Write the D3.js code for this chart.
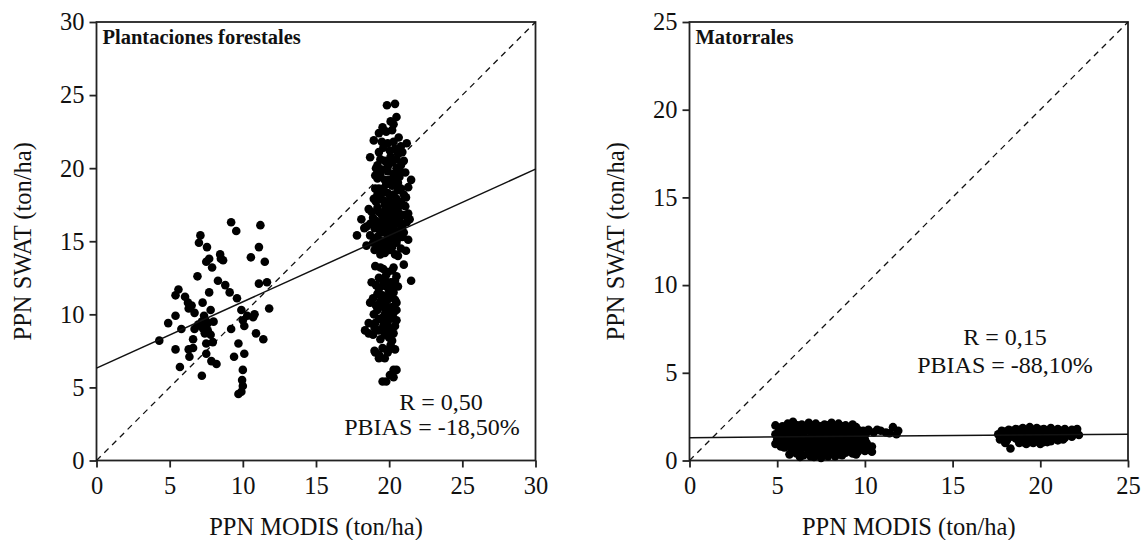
<!DOCTYPE html>
<html><head><meta charset="utf-8">
<script src="https://cdn.jsdelivr.net/npm/d3@7"></script>
<style>body{margin:0;background:#fff}svg{display:block}</style>
</head><body>
<svg id="c" width="1141" height="540"></svg>
<script>
// ---- Data ----
const forestTicks = [0,5,10,15,20,25,30];
const shrubTicks = [0,5,10,15,20,25];
const forestTitle = "Plantaciones forestales";
const shrubTitle = "Matorrales";
const xTitle = "PPN MODIS (ton/ha)";
const yTitle = "PPN SWAT (ton/ha)";
const forestStats = ["R = 0,50","PBIAS = -18,50%"];
const shrubStats = ["R = 0,15","PBIAS = -88,10%"];
const forestFit = [[0,6.32],[30,19.93]];
const shrubFit = [[0,1.3],[25,1.5]];

const forestLow = [[4.29,8.2],[4.9,9.4],[5.4,9.9],[5.4,11.3],[5.6,11.7],[5.4,7.6],[5.7,6.4],[5.8,9.0],[6.05,11.2],[6.25,10.8],[6.3,10.4],[6.3,7.6],[6.35,7.1],[6.6,8.3],[6.6,7.7],[6.7,10.1],[6.7,9.0],[6.9,12.6],[7.0,14.9],[7.1,15.4],[7.2,5.8],[7.25,10.8],[7.35,9.9],[7.3,9.4],[7.3,9.0],[7.4,8.7],[7.5,8.0],[7.5,7.3],[7.5,13.6],[7.55,14.6],[7.6,9.4],[7.7,11.5],[7.7,13.8],[7.8,10.3],[7.8,8.6],[7.85,6.8],[7.9,13.2],[7.95,8.1],[8.0,9.5],[8.2,6.6],[8.3,12.3],[8.45,14.1],[8.65,13.7],[8.8,12.0],[9.1,11.5],[9.2,9.0],[9.2,16.3],[9.4,7.1],[9.55,15.7],[9.6,11.1],[9.7,8.0],[9.7,4.55],[9.9,4.7],[9.9,10.3],[9.95,5.5],[10.0,5.1],[10.0,6.2],[10.0,9.6],[10.1,7.3],[10.1,9.2],[10.55,13.9],[10.7,9.8],[10.8,10.0],[10.9,8.7],[11.1,14.6],[11.1,12.1],[11.2,16.1],[11.4,8.3],[11.5,13.6],[11.65,12.2],[11.8,10.4],[7.1,9.2],[7.45,9.6],[7.2,9.5],[6.95,9.3],[7.6,8.9],[8.5,13.8],[10.3,9.9],[6.5,10.6]];

const forestHigh = [[19.85,24.3],[20.4,24.4],[20.5,23.5],[20.1,23.2],[20.3,23.0],[19.55,22.8],[19.3,22.4],[19.8,22.5],[20.2,22.6],[18.95,21.9],[20.65,22.1],[21.2,21.7],[20.3,21.8],[19.6,21.4],[20.05,21.2],[19.3,21.1],[20.9,21.1],[20.6,21.0],[18.7,20.75],[21.0,20.5],[19.4,20.6],[20.2,20.4],[20.8,20.2],[19.9,20.1],[19.05,19.5],[19.9,19.8],[20.5,20.0],[21.1,19.7],[19.5,19.9],[20.3,19.6],[21.5,19.2],[19.2,19.3],[20.0,19.2],[20.7,19.4],[21.3,18.7],[19.05,18.6],[19.55,18.35],[20.2,18.8],[20.6,18.5],[19.8,18.9],[21.0,18.2],[18.95,17.9],[21.15,18.0],[19.4,18.0],[20.0,17.8],[20.4,17.6],[19.7,17.5],[20.8,17.7],[18.6,17.2],[19.2,17.3],[19.9,17.2],[20.3,17.0],[21.3,16.9],[20.7,16.9],[19.5,16.8],[18.9,16.6],[18.1,16.5],[21.4,16.5],[19.3,16.3],[20.1,16.4],[20.5,16.2],[19.7,16.1],[20.9,16.0],[18.45,16.0],[19.0,15.9],[20.3,15.8],[19.6,15.6],[21.0,15.6],[17.8,15.4],[18.7,15.4],[19.2,15.3],[20.0,15.3],[20.6,15.2],[21.3,15.1],[19.8,14.9],[18.45,14.7],[19.4,14.8],[20.2,14.6],[20.8,14.5],[19.0,14.4],[21.15,14.35],[19.7,14.2],[20.4,14.1],[19.6,17.0],[20.0,16.6],[19.3,16.0],[20.4,15.5],[19.9,15.9],[20.2,17.4],[19.5,15.0],[20.6,17.3],[19.8,16.4],[20.1,19.0],[19.6,18.6],[20.7,19.8],[19.4,19.6],[20.4,21.3],[19.9,21.7],
[19.2,20.2],[19.7,20.5],[20.1,20.8],[20.5,20.6],[19.5,21.8],[20.8,21.5],[19.1,20.0],[20.6,19.0],[19.3,18.6],[19.9,18.3],[20.3,18.2],[20.8,18.6],[19.1,17.7],[19.6,17.8],[20.5,17.9],[21.1,17.4],[18.8,17.0],[19.8,16.9],[20.4,16.6],[21.0,16.8],[19.1,16.4],[19.6,16.3],[20.7,16.4],[18.7,16.2],[20.2,16.0],[21.2,16.3],[19.4,15.6],[19.9,15.6],[20.8,15.8],[18.3,15.9],[19.0,15.1],[20.3,15.2],[20.9,15.3],[18.9,14.9],[20.0,14.8],[20.5,14.9],[19.2,14.5],[20.0,14.4],[20.6,14.0],[19.4,14.1],
[21.0,13.4],[19.05,13.3],[20.3,13.2],[19.6,13.1],[19.9,12.9],[19.8,12.7],[20.5,12.6],[19.3,12.5],[21.5,12.3],[18.8,12.2],[20.1,12.2],[19.6,12.0],[20.6,11.9],[19.3,11.75],[20.0,11.6],[19.55,11.3],[20.05,11.3],[18.9,11.1],[20.4,11.0],[18.7,10.8],[19.4,10.9],[20.5,10.8],[19.8,10.6],[20.2,10.5],[19.2,10.3],[19.8,10.3],[20.5,10.3],[18.95,10.0],[20.0,10.0],[19.6,9.8],[20.3,9.7],[19.55,9.6],[18.6,9.4],[19.05,9.4],[20.4,9.2],[19.9,9.2],[18.35,8.9],[19.3,8.9],[20.05,8.9],[18.6,8.7],[20.3,8.7],[19.7,8.6],[20.0,8.4],[19.55,7.7],[20.05,7.7],[19.05,7.4],[19.3,7.25],[19.7,7.0],[19.0,7.5],[20.1,7.9],[20.3,6.2],[20.5,6.2],[20.05,5.85],[20.3,5.7],[19.55,5.4],[19.8,5.4],[19.5,12.4],[20.3,11.5],[19.7,10.0],[20.2,9.9],
[19.4,13.2],[20.2,13.0],[19.7,12.4],[20.4,12.3],[19.1,12.0],[20.3,12.0],[19.8,11.9],[19.2,11.4],[19.9,11.0],[20.2,11.2],[19.1,10.6],[19.6,10.5],[20.3,10.1],[19.3,9.7],[19.9,9.5],[20.5,9.6],[19.0,9.1],[19.6,9.2],[19.8,8.9],[19.4,8.3],[20.2,8.2],[18.9,8.6],[19.9,7.4],[20.4,7.6],[19.3,7.0],
[19.7,19.2],[20.4,19.3],[19.3,17.0],[20.1,17.6],[19.9,15.2],[19.6,14.6],[20.3,16.2],[20.7,15.6],[19.2,18.2],[20.0,20.3]];

const shrubLow = [[5.6,2.1],[5.9,2.2],[6.4,2.05],[6.8,2.15],[7.2,2.1],[7.7,2.05],[8.1,2.15],[8.5,2.1],[8.9,2.0],[9.3,2.05],[4.9,2.0],
[5.1,1.7],[5.5,1.8],[5.9,1.75],[6.3,1.85],[6.7,1.7],[7.1,1.8],[7.5,1.75],[7.9,1.85],[8.3,1.7],[8.7,1.8],[9.1,1.75],[9.5,1.9],[9.9,1.7],[10.2,1.75],
[4.9,1.5],[5.3,1.4],[5.7,1.35],[6.1,1.45],[6.5,1.4],[6.9,1.3],[7.3,1.45],[7.7,1.4],[8.1,1.35],[8.5,1.45],[8.9,1.4],[9.3,1.5],[9.7,1.35],[10.0,1.45],
[4.9,0.95],[5.3,1.0],[5.7,1.1],[6.1,1.0],[6.5,1.05],[6.9,0.95],[7.3,1.1],[7.7,1.0],[8.1,1.05],[8.5,0.95],[8.9,1.1],[9.3,1.0],[9.7,0.95],[10.1,1.0],
[5.4,0.75],[5.8,0.65],[6.2,0.7],[6.6,0.75],[7.0,0.65],[7.4,0.7],[7.8,0.75],[8.2,0.65],[8.6,0.7],[9.0,0.75],[9.4,0.65],[9.8,0.7],[10.3,0.6],
[5.7,0.35],[6.1,0.4],[6.5,0.3],[6.9,0.25],[7.3,0.35],[7.7,0.3],[8.1,0.4],[8.5,0.35],[8.9,0.45],[9.3,0.4],
[10.4,0.5],[5.0,1.2],[5.2,0.8],[9.6,1.2],[9.8,1.6],[6.0,1.55],[7.0,1.55],[8.0,1.55],[9.0,1.6],[6.4,0.9],[7.5,0.9],[8.7,0.9],[6.8,0.5],[7.9,0.5],[9.1,0.55],[5.5,1.6],[10.0,1.2],
[5.3,1.95],[5.75,1.95],[6.15,2.0],[6.6,1.95],[7.0,2.0],[7.45,1.95],[7.9,2.0],[8.3,1.95],[8.7,1.95],[9.1,1.9],[9.6,1.75],
[5.2,1.6],[5.8,1.6],[6.3,1.6],[6.5,1.65],[7.3,1.65],[7.7,1.6],[8.5,1.6],[8.8,1.55],[9.4,1.65],[10.1,1.6],
[5.5,1.25],[5.9,1.2],[6.3,1.25],[6.7,1.2],[7.1,1.25],[7.5,1.2],[7.9,1.25],[8.3,1.2],[8.7,1.25],[9.1,1.2],[9.5,1.3],[9.9,1.25],
[5.5,0.9],[6.0,0.85],[6.8,0.85],[7.2,0.85],[7.9,0.85],[8.3,0.85],[9.2,0.85],[9.6,0.8],[10.0,0.85],[10.4,0.8],
[5.9,0.5],[6.3,0.55],[7.2,0.5],[7.6,0.55],[8.4,0.5],[8.8,0.55],[9.6,0.5],[10.0,0.55],
[6.3,0.2],[7.1,0.2],[7.5,0.15],[7.9,0.25],[8.3,0.25],[8.7,0.3],[9.5,0.35],
[10.5,1.6],[10.9,1.7],[11.2,1.6],[11.6,1.9],[11.9,1.7],[11.8,1.5],[11.4,1.55],[10.7,1.75]];

const shrubHigh = [[17.8,1.7],[18.2,1.75],[18.6,1.8],[19.0,1.85],[19.4,1.9],[19.8,1.85],[20.2,1.8],[20.6,1.85],[21.0,1.8],[21.4,1.8],[21.8,1.75],[22.1,1.8],
[17.6,1.5],[18.0,1.45],[18.4,1.55],[18.8,1.5],[19.2,1.45],[19.6,1.55],[20.0,1.5],[20.4,1.55],[20.8,1.5],[21.2,1.55],[21.6,1.5],[22.0,1.55],[22.2,1.45],
[17.7,1.2],[18.1,1.15],[18.6,1.25],[19.0,1.2],[19.4,1.15],[19.8,1.25],[20.2,1.2],[20.6,1.3],[21.0,1.25],[21.4,1.3],[21.8,1.35],
[18.8,1.0],[19.2,0.95],[19.6,1.0],[20.0,0.95],[20.4,1.05],[18.0,1.0],[18.3,0.68],
[18.0,1.65],[18.4,1.7],[18.8,1.75],[19.2,1.7],[19.6,1.75],[20.0,1.75],[20.4,1.7],[20.8,1.7],[21.2,1.7],[21.6,1.65],[22.0,1.7],
[17.9,1.35],[18.3,1.35],[18.7,1.35],[19.1,1.35],[19.5,1.35],[19.9,1.4],[20.3,1.35],[20.7,1.4],[21.1,1.4],[21.5,1.45],
[19.0,1.05],[19.4,1.05],[19.8,1.1],[20.2,1.05],[20.6,1.1],[21.0,1.15],[21.3,1.2]];

// ---- Drawing ----
const FONT = "'Liberation Serif','Times New Roman','DejaVu Serif',serif";
const svg = d3.select("#c");
const fmt = d => String(d);

function panel(o){
  const g = svg.append("g");
  const x = d3.scaleLinear().domain([0,o.max]).range([o.left,o.right]);
  const y = d3.scaleLinear().domain([0,o.max]).range([o.bottom,o.top]);
  g.append("rect").attr("x",o.left).attr("y",o.top).attr("width",o.right-o.left).attr("height",o.bottom-o.top)
    .attr("fill","none").attr("stroke","#222").attr("stroke-width",1.8);
  const ax = g.append("g").attr("transform",`translate(0,${o.bottom})`)
    .call(d3.axisBottom(x).tickValues(o.ticks).tickSize(7).tickPadding(9).tickFormat(fmt));
  const ay = g.append("g").attr("transform",`translate(${o.left},0)`)
    .call(d3.axisLeft(y).tickValues(o.ticks).tickSize(7).tickPadding(5).tickFormat(fmt));
  [ax,ay].forEach(a=>{
    a.attr("font-family",null).attr("font-size",null);
    a.select(".domain").remove();
    a.selectAll("line").attr("stroke","#222").attr("stroke-width",1.8);
    a.selectAll("text").attr("fill","#111").style("font-size","24.5px");
  });
  g.append("line").attr("x1",x(0)).attr("y1",y(0)).attr("x2",x(o.max)).attr("y2",y(o.max))
    .attr("stroke","#111").attr("stroke-width",1.3).attr("stroke-dasharray","6,5");
  g.append("g").selectAll("circle").data(o.points).join("circle")
    .attr("cx",d=>x(d[0])).attr("cy",d=>y(d[1])).attr("r",4.3).attr("fill","#000");
  g.append("line").attr("x1",x(o.fit[0][0])).attr("y1",y(o.fit[0][1])).attr("x2",x(o.fit[1][0])).attr("y2",y(o.fit[1][1]))
    .attr("stroke","#111").attr("stroke-width",1.5);
  g.append("text").attr("x",o.left+6).attr("y",o.top+22).style("font-weight","bold").style("font-size","20.5px").text(o.title);
  g.append("text").attr("x",o.s1[0]).attr("y",o.s1[1]).attr("text-anchor","middle").style("font-size","24px").text(o.stats[0]);
  g.append("text").attr("x",o.s2[0]).attr("y",o.s2[1]).attr("text-anchor","middle").style("font-size","24px").text(o.stats[1]);
  g.append("text").attr("x",(o.left+o.right)/2).attr("y",535).attr("text-anchor","middle").style("font-size","24.5px").text(xTitle);
  g.append("text").attr("transform",`translate(${o.left-66},${(o.top+o.bottom)/2}) rotate(-90)`)
    .attr("text-anchor","middle").style("font-size","24.5px").text(yTitle);
}

panel({left:96.5,right:535.5,top:22,bottom:460.5,max:30,ticks:forestTicks,points:forestLow.concat(forestHigh),
  fit:forestFit,title:forestTitle,stats:forestStats,s1:[441,410],s2:[432,435]});
panel({left:689.5,right:1128,top:22,bottom:460.5,max:25,ticks:shrubTicks,points:shrubLow.concat(shrubHigh),
  fit:shrubFit,title:shrubTitle,stats:shrubStats,s1:[1005,345],s2:[1005,373]});
svg.selectAll("text").style("font-family",FONT).attr("fill","#111");
</script>
</body></html>
